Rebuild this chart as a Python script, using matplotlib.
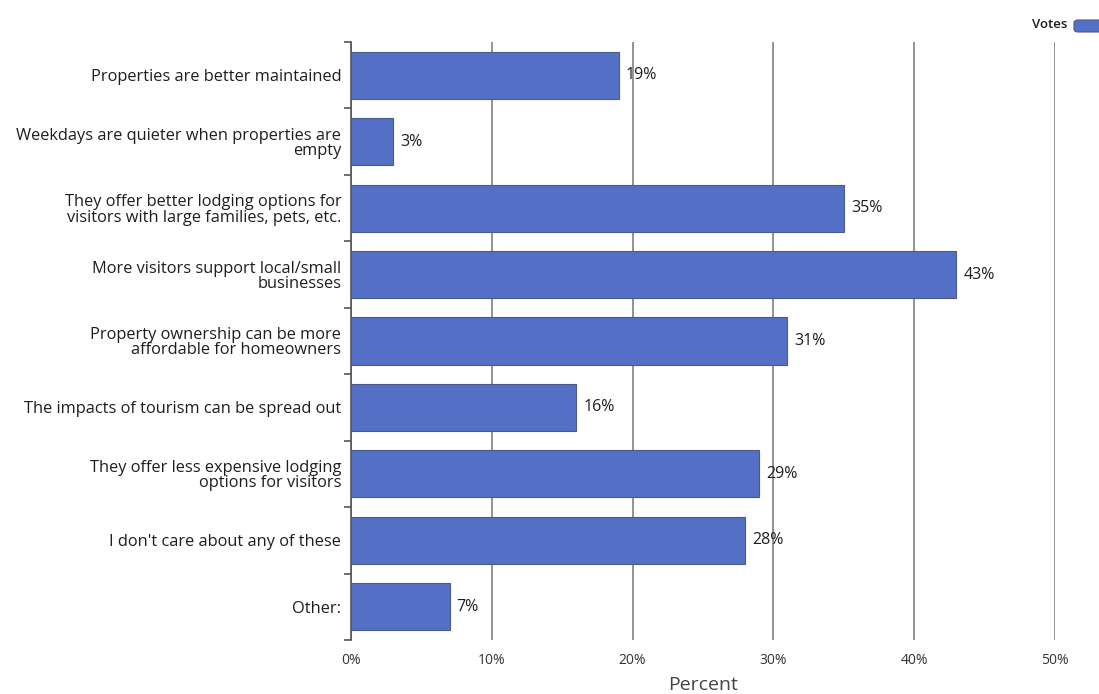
import matplotlib
matplotlib.use("Agg")
import matplotlib.pyplot as plt
from matplotlib.patches import FancyBboxPatch

plt.rcParams['font.family'] = ['Open Sans', 'DejaVu Sans']

categories = [
    "Properties are better maintained",
    "Weekdays are quieter when properties are\nempty",
    "They offer better lodging options for\nvisitors with large families, pets, etc.",
    "More visitors support local/small\nbusinesses",
    "Property ownership can be more\naffordable for homeowners",
    "The impacts of tourism can be spread out",
    "They offer less expensive lodging\noptions for visitors",
    "I don't care about any of these",
    "Other:",
]
votes = [19, 3, 35, 43, 31, 16, 29, 28, 7]
x_ticks = [0, 10, 20, 30, 40, 50]
x_tick_labels = ["0%", "10%", "20%", "30%", "40%", "50%"]
series_name = "Votes"
x_label = "Percent"

bar_color = "#5470c6"
text_color = "#1e1e1e"

fig = plt.figure(figsize=(10.99, 6.94), dpi=100)
ax = fig.add_axes([351 / 1099, 1 - 640 / 694, (1055 - 351) / 1099, (640 - 42) / 694])

n = len(categories)
ypos = list(range(n))
ax.barh(ypos, votes, height=0.71, color=bar_color, edgecolor="#4a5a8a", linewidth=0.8, zorder=3)

for y, v in zip(ypos, votes):
    ax.text(v + 0.5, y, f"{v}%", va="center", ha="left", fontsize=11.5, color=text_color, zorder=4)

ax.set_xlim(0, 50)
ax.set_ylim(n - 0.5, -0.5)
ax.set_xticks(x_ticks)
ax.set_xticklabels(x_tick_labels, fontsize=10, color="#333333")
ax.tick_params(axis="x", length=0, pad=9)

# category labels sit between the boundary ticks
ax.set_yticks(ypos)
ax.set_yticklabels(categories, fontsize=11.8, color=text_color, linespacing=0.95)
ax.tick_params(axis="y", which="major", length=0, pad=7)
ax.set_yticks([i - 0.5 for i in range(n + 1)], minor=True)
ax.tick_params(axis="y", which="minor", length=5, width=1.2, color="#555555", direction="out")

ax.xaxis.grid(True, color="#8a8a8a", linewidth=1.3, zorder=0)
ax.set_axisbelow(True)
for side in ["top", "right", "bottom"]:
    ax.spines[side].set_visible(False)
ax.spines["left"].set_color("#555555")
ax.spines["left"].set_linewidth(1.2)

ax.set_xlabel(x_label, fontsize=14, color="#444444", labelpad=6)

# legend entry at top right
fig.text(1067 / 1099, 1 - 25 / 694, series_name, ha="right", va="center",
         fontsize=9.5, fontweight="semibold", color=text_color)
patch = FancyBboxPatch((1074 / 1099, 1 - 32 / 694), 40 / 1099, 12 / 694,
                       boxstyle="round,pad=0,rounding_size=0.004",
                       transform=fig.transFigure, facecolor=bar_color,
                       edgecolor="#4a5a8a", linewidth=0.8, clip_on=False)
fig.patches.append(patch)

fig.savefig("out.png", dpi=100)
